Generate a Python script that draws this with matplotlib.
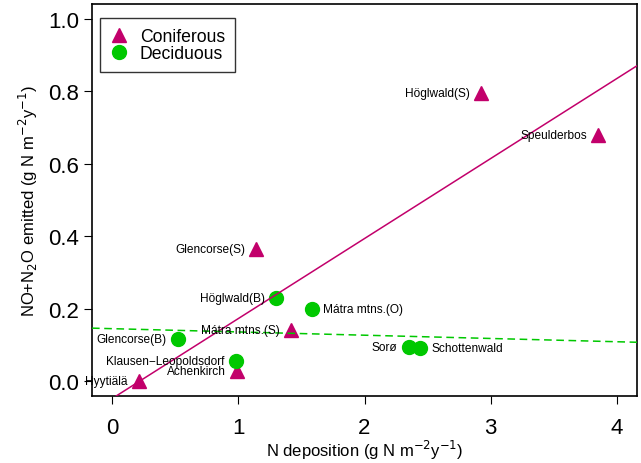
import matplotlib
matplotlib.use("Agg")
import matplotlib.pyplot as plt

plt.rcParams['font.family'] = ['Liberation Sans', 'DejaVu Sans']

# Coniferous sites
con_names = ['Höglwald(S)', 'Speulderbos', 'Glencorse(S)', 'Mátra mtns.(S)', 'Achenkirch', 'Hyytiälä']
con_x = [2.92, 3.85, 1.14, 1.42, 0.99, 0.21]
con_y = [0.794, 0.678, 0.365, 0.143, 0.028, 0.001]

# Deciduous sites
dec_names = ['Höglwald(B)', 'Mátra mtns.(O)', 'Glencorse(B)', 'Klausen\u2212Leopoldsdorf', 'Sorø', 'Schottenwald']
dec_x = [1.30, 1.58, 0.52, 0.98, 2.35, 2.44]
dec_y = [0.231, 0.199, 0.118, 0.056, 0.095, 0.093]
dec_side = ['left', 'right', 'left', 'left', 'left', 'right']

# regression lines (intercept, slope)
con_fit = (-0.047, 0.2204)
dec_fit = (0.1455, -0.009)

MAGENTA = '#C2006B'
GREEN = '#00C800'

fig = plt.figure(figsize=(6.41, 4.64), dpi=100)
ax = fig.add_axes([92 / 641, 1 - 397 / 464, 545 / 641, 392 / 464])

ax.plot(con_x, con_y, '^', color=MAGENTA, markersize=10, label='Coniferous', zorder=3)
ax.plot(dec_x, dec_y, 'o', color=GREEN, markersize=10, label='Deciduous', zorder=3)

ax.axline((0, con_fit[0]), slope=con_fit[1], color=MAGENTA, lw=1.1, zorder=4)
ax.axline((0, dec_fit[0]), slope=dec_fit[1], color=GREEN, lw=1.1, ls=(0, (5, 3)), zorder=4)

for n, x, y in zip(con_names, con_x, con_y):
    ax.annotate(n, (x, y), xytext=(-8, 0), textcoords='offset points',
                ha='right', va='center', fontsize=8.6, zorder=5)
for n, x, y, s in zip(dec_names, dec_x, dec_y, dec_side):
    if s == 'left':
        ax.annotate(n, (x, y), xytext=(-8, 0), textcoords='offset points',
                    ha='right', va='center', fontsize=8.6, zorder=5)
    else:
        ax.annotate(n, (x, y), xytext=(8, 0), textcoords='offset points',
                    ha='left', va='center', fontsize=8.6, zorder=5)

ax.set_xlim(-0.16, 4.16)
ax.set_ylim(-0.04, 1.04)
ax.set_xticks([0, 1, 2, 3, 4])
ax.set_yticks([0.0, 0.2, 0.4, 0.6, 0.8, 1.0])
ax.set_yticklabels(['0.0', '0.2', '0.4', '0.6', '0.8', '1.0'])
ax.tick_params(labelsize=16, length=6, direction='out')
ax.tick_params(axis='x', pad=9)
for sp in ax.spines.values():
    sp.set_linewidth(1.2)

ax.set_xlabel(r'N deposition (g N m$^{-2}$y$^{-1}$)', fontsize=12, va='center')
ax.set_ylabel(r'NO+N$_2$O emitted (g N m$^{-2}$y$^{-1}$)', fontsize=12, va='center')
ax.xaxis.set_label_coords(0.5, -0.137)
ax.yaxis.set_label_coords(-0.1174, 0.5)

leg = ax.legend(loc='upper left', fontsize=12.7, frameon=True, fancybox=False,
                edgecolor='black', borderpad=0.55, handletextpad=0.7,
                handlelength=1.0, labelspacing=0.0, borderaxespad=0.0,
                bbox_to_anchor=(0.0147, 0.964))
leg.get_frame().set_linewidth(1.0)

fig.savefig('out.png', dpi=100)
